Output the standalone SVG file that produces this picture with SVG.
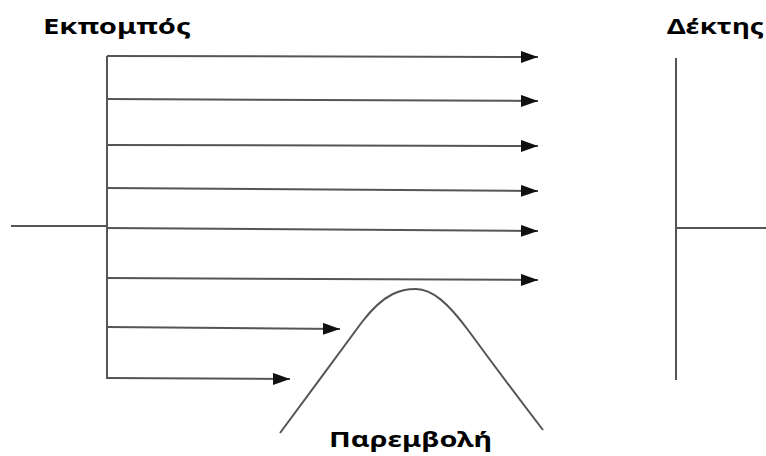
<svg xmlns="http://www.w3.org/2000/svg" width="766" height="456" viewBox="0 0 766 456">
<defs>
<style>
.ln{stroke:#555;stroke-width:2;fill:none}
.lbl{font-family:"Noto Sans","DejaVu Sans",sans-serif;font-weight:bold;font-size:21px;fill:#000}
</style>
<marker id="ah" markerWidth="17" markerHeight="12" refX="17" refY="6" orient="auto" markerUnits="userSpaceOnUse">
<path d="M0,0 L17,6 L0,12 Z" fill="#111"/>
</marker>
</defs>
<rect width="766" height="456" fill="#fff"/>
<g id="transmitter">
<line class="ln" x1="107" y1="56" x2="107" y2="379"/>
<line class="ln" x1="11" y1="226" x2="107" y2="226"/>
<text class="lbl" x="43" y="34" textLength="148" lengthAdjust="spacingAndGlyphs">Εκπομπός</text>
</g>
<g id="receiver">
<line class="ln" x1="676" y1="58" x2="676" y2="380"/>
<line class="ln" x1="676" y1="228" x2="766" y2="228"/>
<text class="lbl" x="667" y="34" textLength="97" lengthAdjust="spacingAndGlyphs">Δέκτης</text>
</g>
<g id="interference">
<path class="ln" d="M280,433 C300,406 340,352 362,322 C385,292 402,289 416,289 C432,289 448,303 468,330 C490,360 520,400 543,430"/>
<text class="lbl" x="329" y="447" textLength="163" lengthAdjust="spacingAndGlyphs">Παρεμβολή</text>
</g>
<g id="connectors">
<line class="ln" x1="107" y1="56" x2="538" y2="57" marker-end="url(#ah)"/>
<line class="ln" x1="107" y1="99" x2="538" y2="101" marker-end="url(#ah)"/>
<line class="ln" x1="107" y1="145" x2="538" y2="146" marker-end="url(#ah)"/>
<line class="ln" x1="107" y1="188" x2="538" y2="191" marker-end="url(#ah)"/>
<line class="ln" x1="107" y1="228" x2="538" y2="231" marker-end="url(#ah)"/>
<line class="ln" x1="107" y1="278" x2="538" y2="280" marker-end="url(#ah)"/>
<line class="ln" x1="107" y1="327" x2="340" y2="329" marker-end="url(#ah)"/>
<line class="ln" x1="107" y1="378" x2="290" y2="379" marker-end="url(#ah)"/>
</g>
</svg>
